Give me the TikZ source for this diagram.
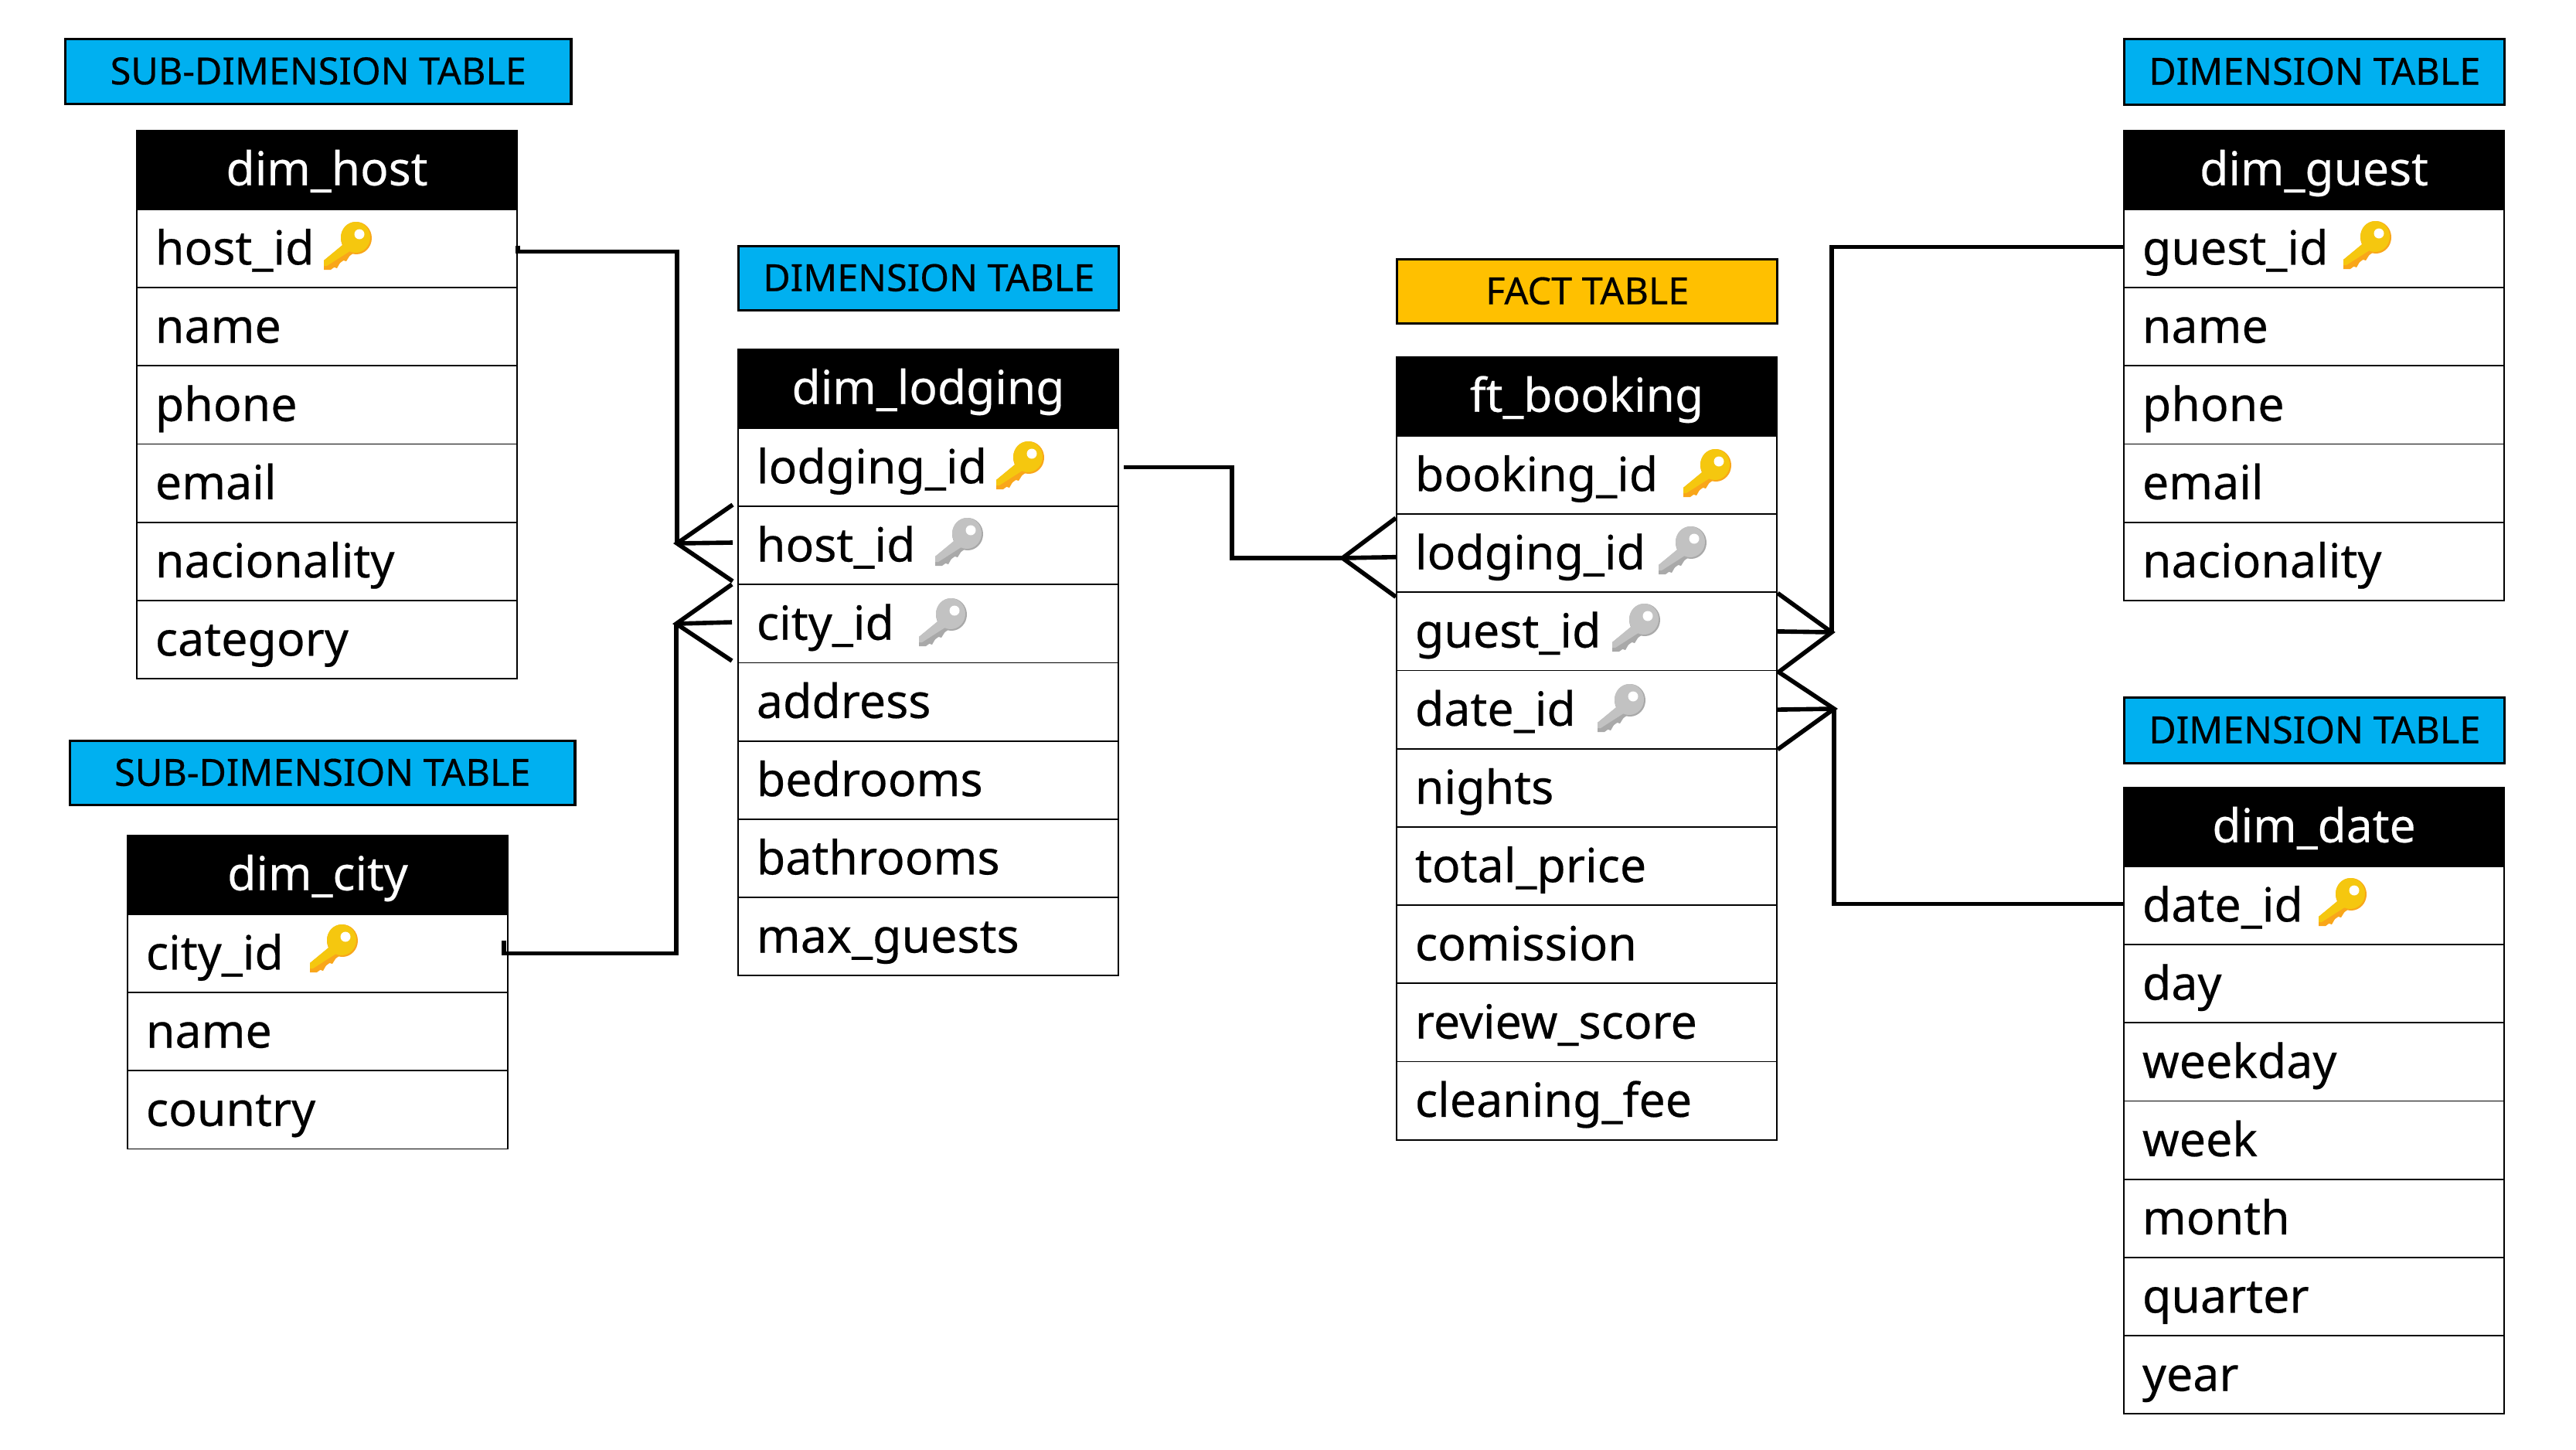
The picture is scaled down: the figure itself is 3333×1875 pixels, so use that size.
\documentclass[tikz,border=0pt]{standalone}
\usepackage{fontspec}
\setmainfont{Noto Sans}[RawFeature={embolden=0.35}]
\usetikzlibrary{calc}
\definecolor{labelblue}{HTML}{00B0F0}
\definecolor{labelgold}{HTML}{FFC000}
\definecolor{goldmain}{HTML}{F5C70F}
\definecolor{goldedge}{HTML}{F9A61A}
\definecolor{graymain}{HTML}{C2C2C2}
\definecolor{grayedge}{HTML}{A9A9A9}
\tikzset{
  x=0.01cm,y=-0.01cm,
  headcell/.style={fill=black,text=white,draw=black,line width=0.5pt,anchor=north west,minimum width=4.92cm,minimum height=1.02cm,inner sep=0pt,font=\fontsize{17.2}{20}\selectfont,align=center,text height=0.85em,text depth=0.15em},
  rowcell/.style={fill=white,draw=black,line width=0.5pt,anchor=north west,text width=4.44cm,minimum height=1.012cm,inner xsep=0.24cm,inner ysep=0pt,font=\fontsize{17.3}{20}\selectfont,align=left,text height=0.835em,text depth=0.165em},
  tag/.style={draw=black,line width=0.9pt,anchor=north west,inner sep=0pt,font=\fontsize{13.8}{15}\selectfont,align=center},
  link/.style={draw=black,line width=1.6pt,line join=miter},
  pics/keyicon/.style 2 args={code={
    \fill[#2] (11,-10) ellipse [x radius=20,y radius=21];
    \fill[#2] (0,-6) -- (12,6) -- (-22,31) -- (-31,31) -- (-31,19) -- cycle;
    \fill[#2] (-7,12) -- (3,12) -- (-2,20) -- (-9,18) -- cycle;
    \fill[#2] (-17,20) -- (-10,22) -- (-14,29) -- (-20,27) -- cycle;
    \fill[#1] (10,-11) ellipse [x radius=19,y radius=20];
    \fill[#1] (-1,-6) -- (9,3) -- (-27,26) -- (-31,26) -- (-31,19) -- cycle;
    \fill[white] (15,-15) circle [radius=6.5];
  }},
}
\newcommand{\erdtable}[5]{%
  \node[headcell] (#1-head) at (#2,#3) {\raisebox{-0.075cm}{#4}};
  \foreach \n/\t [count=\i from 1] in {#5} {
    \node[rowcell] (#1-\n) at (#2,{#3+0.8+101.2*\i}) {\raisebox{-0.09cm}{\t}};
  }
}
\newcommand{\tagtext}[1]{\raisebox{0.02cm}{#1}}
\begin{document}
\begin{tikzpicture}
\useasboundingbox[fill=white] (0,0) rectangle (3333,1875);

\node[tag,fill=labelblue,minimum width=6.54cm,minimum height=0.84cm] (tagHost) at (83,49) {\tagtext{SUB-DIMENSION TABLE}};
\node[tag,fill=labelblue,minimum width=6.53cm,minimum height=0.83cm] (tagCity) at (89,957) {\tagtext{SUB-DIMENSION TABLE}};
\node[tag,fill=labelblue,minimum width=4.92cm,minimum height=0.83cm] (tagLodging) at (954,317) {\tagtext{DIMENSION TABLE}};
\node[tag,fill=labelgold,minimum width=4.92cm,minimum height=0.83cm] (tagFact) at (1806,334) {\tagtext{FACT TABLE}};
\node[tag,fill=labelblue,minimum width=4.92cm,minimum height=0.85cm] (tagGuest) at (2747,49) {\tagtext{DIMENSION TABLE}};
\node[tag,fill=labelblue,minimum width=4.92cm,minimum height=0.85cm] (tagDate) at (2747,901) {\tagtext{DIMENSION TABLE}};

\erdtable{host}{176}{168}{dim\_host}{hostid/host\_id,name/name,phone/phone,email/email,nac/nacionality,cat/category}
\erdtable{city}{164}{1080}{dim\_city}{cityid/city\_id,name/name,country/country}
\erdtable{lodging}{954}{451}{dim\_lodging}{lodgingid/lodging\_id,hostid/host\_id,cityid/city\_id,address/address,bed/bedrooms,bath/bathrooms,maxg/max\_guests}
\erdtable{book}{1806}{461}{ft\_booking}{bookingid/booking\_id,lodgingid/lodging\_id,guestid/guest\_id,dateid/date\_id,nights/nights,total/total\_price,com/comission,review/review\_score,clean/cleaning\_fee}
\erdtable{guest}{2747}{168}{dim\_guest}{guestid/guest\_id,name/name,phone/phone,email/email,nac/nacionality}
\erdtable{date}{2747}{1018}{dim\_date}{dateid/date\_id,day/day,weekday/weekday,week/week,month/month,quarter/quarter,year/year}

\pic at (450,318) {keyicon={goldmain}{goldedge}};
\pic at (1320,602) {keyicon={goldmain}{goldedge}};
\pic at (2209,612) {keyicon={goldmain}{goldedge}};
\pic at (3063,317) {keyicon={goldmain}{goldedge}};
\pic at (3031,1167) {keyicon={goldmain}{goldedge}};
\pic at (432,1227) {keyicon={goldmain}{goldedge}};
\pic at (1241,701) {keyicon={graymain}{grayedge}};
\pic at (1220,805) {keyicon={graymain}{grayedge}};
\pic at (2177,712) {keyicon={graymain}{grayedge}};
\pic at (2117,812) {keyicon={graymain}{grayedge}};
\pic at (2098,916) {keyicon={graymain}{grayedge}};

% host -> lodging.host_id
\coordinate (a1) at (876,703);
\draw[link] ($(host-hostid.east)+(0,-4)$) -- ++(0,8) -| (a1);
\draw[link] (948,653) -- (a1) -- (948,752);
\draw[link] (a1) -- (948,702);
% city -> lodging.city_id
\coordinate (a2) at (875,807);
\draw[link] ($(city-cityid.east)+(-6,-17)$) -- ++(0,17) -| (a2);
\draw[link] (947,756) -- (a2) -- (947,855);
\draw[link] (a2) -- (947,805);
% lodging -> booking.lodging_id
\coordinate (a3) at (1737,722);
\draw[link] ($(lodging-lodgingid.east)+(6,0)$) -| (1594,722) -- (a3);
\draw[link] ($(book-lodgingid.north west)+(0,6)$) -- (a3) -- ($(book-lodgingid.south west)+(0,5)$);
\draw[link] (a3) -- ($(book-lodgingid.west)+(0,5)$);
% guest -> booking.guest_id
\coordinate (a4) at (2370,818);
\draw[link] ($(guest-guestid.west)+(0,-2)$) -| (a4);
\draw[link] ($(book-guestid.north east)+(0,2)$) -- (a4) -- ($(book-guestid.south east)+(0,2)$);
\draw[link] (a4) -- (book-guestid.east);
% date -> booking.date_id
\coordinate (a5) at (2373,917);
\draw[link] ($(date-dateid.west)+(0,-2)$) -| (a5);
\draw[link] ($(book-dateid.north east)+(0,2)$) -- (a5) -- ($(book-dateid.south east)+(0,0)$);
\draw[link] (a5) -- (book-dateid.east);
\end{tikzpicture}
\end{document}
